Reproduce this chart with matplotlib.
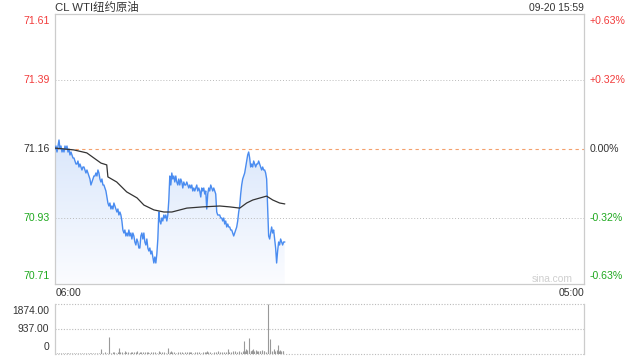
import numpy as np
import matplotlib
matplotlib.use("Agg")
import matplotlib.pyplot as plt
from matplotlib.colors import LinearSegmentedColormap
from matplotlib.patches import PathPatch

plt.rcParams['font.family'] = ['Liberation Sans', 'Noto Sans CJK SC', 'DejaVu Sans']

title = "CL WTI纽约原油"
stamp = "09-20 15:59"
prev_close = 71.16
price_ticks = [71.61, 71.39, 71.16, 70.93, 70.71]
pct_ticks = ["+0.63%", "+0.32%", "0.00%", "-0.32%", "-0.63%"]
time_labels = ["06:00", "05:00"]
session_minutes = 1380
last_minute = 599

prices = [
    71.16, 71.17, 71.15, 71.17, 71.19, 71.16, 71.17, 71.15, 71.16, 71.15,
    71.17, 71.16, 71.17, 71.15, 71.16, 71.14, 71.15, 71.14, 71.13, 71.13,
    71.12, 71.11, 71.11, 71.12, 71.10, 71.11, 71.10, 71.09, 71.10, 71.10,
    71.09, 71.08, 71.09, 71.08, 71.07, 71.06, 71.04, 71.05, 71.06, 71.07,
    71.07, 71.08, 71.07, 71.09, 71.08, 71.06, 71.05, 71.06, 71.04, 71.04,
    71.03, 71.02, 71.00, 70.98, 70.97, 70.98, 70.96, 70.97, 70.96, 70.98,
    70.97, 70.96, 70.95, 70.96, 70.94, 70.95, 70.94, 70.92, 70.89, 70.88,
    70.89, 70.87, 70.88, 70.87, 70.89, 70.87, 70.88, 70.86, 70.88, 70.87,
    70.85, 70.84, 70.86, 70.85, 70.83, 70.83, 70.87, 70.88, 70.86, 70.88,
    70.85, 70.84, 70.86, 70.83, 70.82, 70.83, 70.81, 70.82, 70.80, 70.78,
    70.80, 70.78, 70.81, 70.86, 70.95, 70.92, 70.91, 70.93, 70.92, 70.94,
    70.93, 70.94, 70.92, 70.94, 70.99, 71.07, 71.04, 71.08, 71.06, 71.07,
    71.05, 71.07, 71.05, 71.04, 71.06, 71.04, 71.06, 71.05, 71.03, 71.05,
    71.04, 71.04, 71.05, 71.04, 71.03, 71.04, 71.03, 71.04, 71.02, 71.03,
    71.02, 71.03, 71.04, 71.02, 71.03, 71.02, 71.00, 71.03, 71.02, 71.03,
    71.01, 71.02, 70.96, 71.01, 71.03, 71.02, 71.04, 71.03, 71.02, 71.03,
    71.02, 71.01, 70.95, 70.94, 70.94, 70.94, 70.93, 70.93, 70.92, 70.93,
    70.91, 70.92, 70.90, 70.91, 70.90, 70.90, 70.89, 70.89, 70.88, 70.87,
    70.88, 70.89, 70.90, 70.92, 70.95, 70.97, 71.01, 71.04, 71.06, 71.07,
    71.08, 71.10, 71.12, 71.14, 71.15, 71.13, 71.10, 71.11, 71.10, 71.12,
    71.11, 71.10, 71.11, 71.11, 71.12, 71.11, 71.10, 71.09, 71.10, 71.09,
    71.09, 71.08, 71.06, 70.96, 70.87, 70.86, 70.88, 70.90, 70.88, 70.89,
    70.86, 70.83, 70.78, 70.82, 70.85, 70.84, 70.86, 70.85, 70.84, 70.85,
    70.85,
]

avg_minutes = [0, 49, 83, 120, 135, 138, 161, 187, 214, 232, 258, 284, 305,
               344, 385, 430, 456, 482, 500, 516, 552, 568, 586, 599]
avg_prices = [71.163, 71.157, 71.147, 71.113, 71.107, 71.067, 71.050, 71.017,
              70.997, 70.973, 70.957, 70.950, 70.950, 70.963, 70.967, 70.970,
              70.967, 70.963, 70.980, 70.990, 71.003, 70.990, 70.980, 70.977]

vol_base = [
    30, 25, 35, 20, 28, 32, 22, 30, 26, 35, 24, 30, 28, 22, 34, 27, 30, 25, 33, 29, 26, 31, 24, 36,
    60, 45, 70, 55, 80, 50, 65, 90, 55, 70, 60, 85, 50, 75, 65, 55, 80, 60, 70, 95, 55, 65, 75, 60,
    70, 55, 85, 60, 75, 50, 90, 65, 70, 80, 55, 100, 60, 75, 85, 50, 70, 65, 90, 55, 75, 60, 80, 70,
    55, 75, 60, 85, 50, 70, 65, 80, 60, 90, 55, 75, 70, 100, 65, 80, 60, 75, 90, 70, 85, 120, 95, 80,
    110, 90, 130, 100, 150, 120, 95, 140, 110, 160, 125, 100, 135, 115, 90, 145, 105, 130, 120, 100, 140, 115, 125, 95,
]
spike_minutes = [120, 141, 167, 182, 198, 221, 242, 271, 294, 302, 352, 396, 450,
                 492, 497, 505, 510, 516, 526, 536, 544, 555, 560, 570, 581, 588, 596]
spike_values = [200, 640, 230, 100, 75, 75, 85, 130, 230, 130, 60, 130, 200,
                470, 180, 590, 120, 200, 110, 100, 110, 1874, 570, 170, 350, 140, 100]
vol_ticks = [0, 937, 1874]
vol_labels = ["0", "937.00", "1874.00"]

red = '#f23b3b'
green = '#1ea81e'
dark = '#333333'
border = '#cccccc'

fig = plt.figure(figsize=(6.4, 3.6), dpi=100)
ax = fig.add_axes([55/640, 1-284/360, 529/640, 270/360])
axv = fig.add_axes([55/640, 1-354/360, 529/640, 50/360])

ymin, ymax = price_ticks[-1], price_ticks[0]
t = np.linspace(0, last_minute, len(prices))

ax.set_xlim(0, session_minutes)
ax.set_ylim(ymin, ymax)

# gradient fill under price line
poly = ax.fill_between(t, prices, ymin, color='none', lw=0)
cmap = LinearSegmentedColormap.from_list('g', ['#fbfcff', '#dae7fb'])
grad = np.linspace(0, 1, 256).reshape(-1, 1)
img = ax.imshow(grad, extent=[0, session_minutes, ymin, 71.19], aspect='auto',
                cmap=cmap, origin='lower', zorder=1)
patch = PathPatch(poly.get_paths()[0], transform=ax.transData, facecolor='none', edgecolor='none')
ax.add_patch(patch)
img.set_clip_path(patch)
ax.set_ylim(ymin, ymax)

ax.plot(t, prices, color='#4a8cf0', lw=1.0, zorder=3)
ax.plot(avg_minutes, avg_prices, color='#333333', lw=0.9, zorder=4)

# grid lines
for v in [price_ticks[1], price_ticks[3]]:
    ax.axhline(v, color='#bbbbbb', lw=0.7, ls=(0, (1, 2)), zorder=2)
ax.axhline(prev_close, color='#f4a06c', lw=0.8, ls=(0, (3, 3)), zorder=2)

for s in ax.spines.values():
    s.set_color(border)
    s.set_linewidth(0.9)
ax.set_xticks([])
ax.set_yticks([])

fs = 7.6
colors = [red, red, dark, green, green]
for i, (v, p, c) in enumerate(zip(price_ticks, pct_ticks, colors)):
    if i == 0:
        va, off = 'top', -1.5
    elif i == len(price_ticks) - 1:
        va, off = 'bottom', 2.5
    else:
        va, off = 'center', 0
    ax.annotate(f"{v:.2f}", xy=(0, v), xycoords=('axes fraction', 'data'),
                xytext=(-4, off), textcoords='offset points', ha='right', va=va,
                fontsize=fs, color=c)
    ax.annotate(p, xy=(1, v), xycoords=('axes fraction', 'data'),
                xytext=(4, off), textcoords='offset points', ha='left', va=va,
                fontsize=fs, color=c)

fig.text(55/640, 1-7/360, title, ha='left', va='center', fontsize=8.2, color=dark,
         family=['Liberation Sans', 'Noto Sans CJK SC'])
fig.text(584/640, 1-8/360, stamp, ha='right', va='center', fontsize=7.4, color=dark)
fig.text(573/640, 1-279/360, "sina.com", ha='right', va='center', fontsize=7.4, color='#cfcfcf')
fig.text(56/640, 1-293/360, time_labels[0], ha='left', va='center', fontsize=7.4, color=dark)
fig.text(584/640, 1-293/360, time_labels[1], ha='right', va='center', fontsize=7.4, color=dark)

# volume panel
vol_t = np.arange(len(vol_base)) * 5
axv.set_xlim(0, session_minutes)
axv.set_ylim(0, vol_ticks[-1])
axv.vlines(vol_t, 0, vol_base, color='#999999', lw=0.8)
axv.vlines(spike_minutes, 0, spike_values, color='#999999', lw=0.8)
for v in vol_ticks:
    axv.axhline(v, color='#bbbbbb', lw=0.8, ls=(0, (1, 1.5)), zorder=0, clip_on=False)
for side in ['top', 'bottom']:
    axv.spines[side].set_visible(False)
for side in ['left', 'right']:
    axv.spines[side].set_color(border)
    axv.spines[side].set_linewidth(0.9)
axv.set_xticks([])
axv.set_yticks([])
for v, lab, off in zip(vol_ticks, vol_labels, [5, 0, -5]):
    axv.annotate(lab, xy=(0, v), xycoords=('axes fraction', 'data'),
                 xytext=(-4, off), textcoords='offset points', ha='right', va='center',
                 fontsize=7.4, color=dark)

fig.savefig("out.png", dpi=100)
